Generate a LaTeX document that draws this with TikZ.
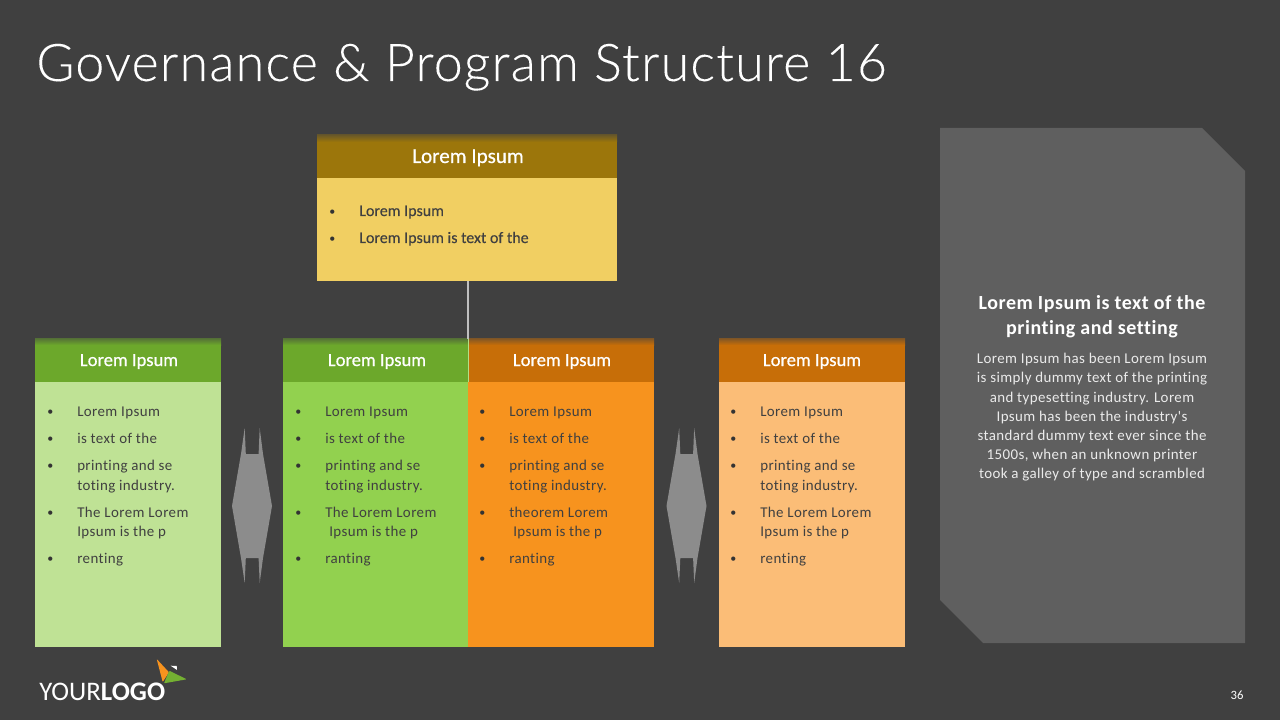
\documentclass[tikz,border=0pt]{standalone}
\usepackage{fontspec}
\setmainfont{Carlito}
\newfontfamily\titlef[LetterSpace=2.3,FakeBold=0.1]{Lato Light}
\newfontfamily\bodyf[LetterSpace=2.7,Ligatures=NoCommon]{Carlito}
\newfontfamily\sideb[LetterSpace=2.7,Ligatures=NoCommon]{Carlito Bold}
\newfontfamily\headf[FakeBold=0.6]{Carlito}
\newfontfamily\topf[FakeBold=0.25]{Carlito}
\definecolor{bg}{HTML}{404040}
\definecolor{panel}{HTML}{5F5F5F}
\definecolor{gy}{HTML}{8C8C8C}
\definecolor{htop}{HTML}{9C760B}\definecolor{btop}{HTML}{F1CF62}
\definecolor{hgr}{HTML}{6CA82B}\definecolor{bgrl}{HTML}{BFE295}\definecolor{bgr}{HTML}{92D14F}
\definecolor{hor}{HTML}{C76E08}\definecolor{bor}{HTML}{F7931E}\definecolor{borl}{HTML}{FBBD77}
\tikzset{
 block/.style={rectangle,inner sep=0,outer sep=0,anchor=north west},
 head/.style={font=\headf\fontsize{13.9}{16}\selectfont,text=white,anchor=base,inner sep=0},
 tophead/.style={font=\headf\fontsize{15.8}{18}\selectfont,text=white,anchor=base,inner sep=0},
 body/.style={font=\bodyf\fontsize{11.2}{13}\selectfont,text=bg,anchor=base west,inner sep=0},
 topbody/.style={font=\topf\fontsize{12}{14}\selectfont,text=bg,anchor=base west,inner sep=0},
 dot/.style={font=\bodyf\fontsize{9}{10}\selectfont,text=black!80,anchor=base west,inner sep=0},
 side/.style={font=\bodyf\fontsize{11.2}{13}\selectfont,text=white!92!black,anchor=base,inner sep=0},
 sidehead/.style={font=\sideb\fontsize{15}{17}\selectfont,text=white,anchor=base,inner sep=0},
 arrowshape/.style={fill=gy,draw=none},
}
\newcommand{\blk}[6]{\node[block,fill=#6,minimum width={(#4-#2)*0.75pt},minimum height={(#5-#3)*0.75pt}] (#1) at (#2,#3) {};}
\newcommand{\topfade}[5]{\fill[top color=#5!45!bg,bottom color=#5] (#1,#3) rectangle (#2,#3+7);}
\newcounter{tx}
\newcommand{\bl}[3]{\stepcounter{tx}\node[dot] (d\arabic{tx}) at (#1-30,#2-0.5) {•};\node[body] (t\arabic{tx}) at (#1,#2) {#3};}
\newcommand{\tbl}[3]{\stepcounter{tx}\node[dot] (d\arabic{tx}) at (#1-30,#2-0.5) {•};\node[topbody] (t\arabic{tx}) at (#1,#2) {#3};}
\newcommand{\cln}[2]{%
 \bl{#1}{416}{Lorem Ipsum}\bl{#1}{443}{is text of the}\bl{#1}{470}{printing and se}
 \stepcounter{tx}\node[body] (u\arabic{tx}) at (#1,490) {toting industry.};
 \bl{#1}{563}{#2}}
\newcommand{\arrowS}[1]{\begin{scope}[xshift=#1*0.75pt]
 \fill[arrowshape] (232,506)--(241,454)--(244.7,428)--(245.8,454)--(258.6,454)--(259.7,428)--(263,454)--(272,506)--(263,558)--(259.7,583)--(258.6,558)--(245.8,558)--(244.7,583)--(241,558)--cycle;
 \end{scope}}
\begin{document}
\begin{tikzpicture}[x=0.75pt,y=-0.75pt]
\useasboundingbox (0,0) rectangle (1280,720);
\fill[bg] (0,0) rectangle (1280,720);
\node[anchor=base west,inner sep=0,text=white,font=\titlef\fontsize{39}{46}\selectfont] (title) at (36,81) {Governance \& Program Structure 16};
% right panel
\fill[panel] (940,128)--(1202,128)--(1245,171)--(1245,643)--(983,643)--(940,600)--cycle;
\node[sidehead] (s1) at (1092,309) {Lorem Ipsum is text of the};
\node[sidehead] (s2) at (1092,334) {printing and setting};
\node[side] (s3) at (1092,363) {Lorem Ipsum has been Lorem Ipsum};
\node[side] (s4) at (1092,382.5) {is simply dummy text of the printing};
\node[side] (s5) at (1092,402) {and typesetting industry. Lorem};
\node[side] (s6) at (1092,421) {Ipsum has been the industry's};
\node[side] (s7) at (1092,440) {standard dummy text ever since the};
\node[side] (s8) at (1092,459) {1500s, when an unknown printer};
\node[side] (s9) at (1092,478) {took a galley of type and scrambled};
% top block
\blk{top}{317}{178}{617}{281}{btop}
\blk{toph}{317}{136}{617}{178}{htop}
\topfade{317}{617}{135}{bg}{htop}
\node[tophead] (toplabel) at (468,163) {Lorem Ipsum};
\tbl{359}{216}{Lorem Ipsum}
\tbl{359}{243}{Lorem Ipsum is text of the}
% headers and bodies
\blk{b1}{35}{382}{221}{647}{bgrl}
\blk{h1}{35}{339}{221}{382}{hgr}
\topfade{35}{221}{338}{bg}{hgr}
\blk{b2}{283}{382}{468}{647}{bgr}
\blk{h2}{283}{339}{468}{382}{hgr}
\topfade{283}{468}{338}{bg}{hgr}
\blk{b3}{468}{382}{654}{647}{bor}
\blk{h3}{468}{339}{654}{382}{hor}
\topfade{468}{654}{338}{bg}{hor}
\blk{b4}{719}{382}{905}{647}{borl}
\blk{h4}{719}{339}{905}{382}{hor}
\topfade{719}{905}{338}{bg}{hor}
\draw[color=bgr!70!white,line width=0.5pt] (h2.north east) -- (h2.south east);
\draw[color=lightgray,line width=1pt] (h2.north east |- top.south) -- (h2.north east);
\node[head] (l1) at (129,366) {Lorem Ipsum};
\node[head] (l2) at (377,366) {Lorem Ipsum};
\node[head] (l3) at (562,366) {Lorem Ipsum};
\node[head] (l4) at (812,366) {Lorem Ipsum};
% columns
\cln{77}{renting}
\node[body] (x1) at (77,517) {The Lorem Lorem};\node[dot] (x1d) at (47,516.5) {•};\node[body] (x1b) at (77,536) {Ipsum is the p};
\cln{325}{ranting}
\node[body] (x2) at (325,517) {The Lorem Lorem};\node[dot] (x2d) at (295,516.5) {•};\node[body] (x2b) at (329,536) {Ipsum is the p};
\bl{509}{416}{Lorem Ipsum}\bl{509}{443}{is text of the}\bl{509}{470}{printing and se}
\node[body] (u3) at (509,490) {toting industry.};
\bl{509}{517}{theorem Lorem}
\node[body] (x3b) at (513,536) {Ipsum is the p};
\bl{509}{563}{ranting}
\cln{760}{renting}
\node[body] (x4) at (760,517) {The Lorem Lorem};\node[dot] (x4d) at (730,516.5) {•};\node[body] (x4b) at (760,536) {Ipsum is the p};
% arrows
\arrowS{0}
\arrowS{434.5}
% logo
\fill[bor,rounded corners=0.6pt] (156.7,659)--(169,672.3)--(162.7,682)--cycle;
\fill[hgr!80!bgr,rounded corners=0.6pt] (169.3,670.7)--(186.7,679.3)--(164,683.3)--cycle;
\fill[white] (170.7,665.7)--(176.7,666)--(177,670)--cycle;
\node[anchor=base west,inner sep=0,text=white,font=\fontsize{20.1}{24}\selectfont] (logo) at (39,700) {YOUR\textbf{LOGO}};
\node[anchor=base,inner sep=0,text=white,font=\fontsize{9.5}{11}\selectfont] (page) at (1237,699) {36};
\end{tikzpicture}
\end{document}
